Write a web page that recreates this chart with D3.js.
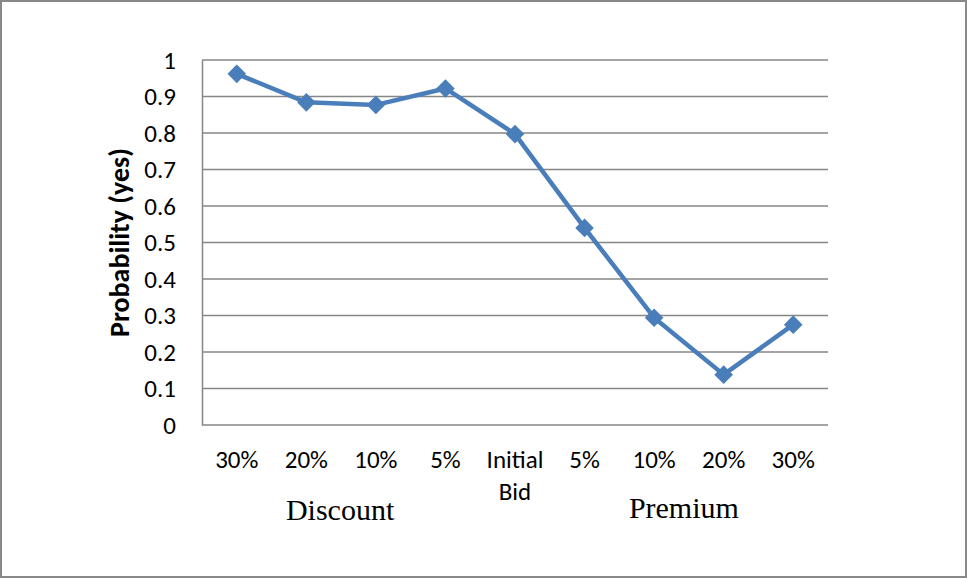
<!DOCTYPE html>
<html>
<head>
<meta charset="utf-8">
<script src="https://cdnjs.cloudflare.com/ajax/libs/d3/7.8.5/d3.min.js"></script>
<style>
  body { margin: 0; background: #fff; }
  svg { display: block; }
</style>
</head>
<body>
<div id="chart"></div>
<script>
var categories = ["30%", "20%", "10%", "5%", "Initial Bid", "5%", "10%", "20%", "30%"];
var probYes = [0.962, 0.884, 0.877, 0.922, 0.797, 0.540, 0.294, 0.138, 0.275];
var yTicks = [0, 0.1, 0.2, 0.3, 0.4, 0.5, 0.6, 0.7, 0.8, 0.9, 1];
var groupLabels = ["Discount", "Premium"];

var width = 967,
    height = 578;
var margin = { left: 202, right: 139, top: 60, bottom: 153 };
var lineColor = "#4a7ebb",
    gridColor = "#868686";
var labelFont = "Carlito, Lato, sans-serif";

var svg = d3.select("#chart")
    .append("svg")
    .attr("width", width)
    .attr("height", height);

// outer frame
svg.append("rect")
    .attr("x", 1).attr("y", 1)
    .attr("width", width - 2).attr("height", height - 2)
    .attr("fill", "#fff")
    .attr("stroke", "#888")
    .attr("stroke-width", 2);

var x = d3.scaleBand()
    .domain(d3.range(categories.length))
    .range([margin.left, width - margin.right]);

var y = d3.scaleLinear()
    .domain([0, 1])
    .range([height - margin.bottom, margin.top]);

// gridlines
svg.append("g")
    .selectAll("line")
    .data(yTicks)
    .enter().append("line")
    .attr("x1", margin.left)
    .attr("x2", width - margin.right)
    .attr("y1", function(d) { return y(d); })
    .attr("y2", function(d) { return y(d); })
    .attr("stroke", gridColor)
    .attr("stroke-width", 1.5);

// y axis
var yAxis = svg.append("g")
    .attr("transform", "translate(" + margin.left + ",0)")
    .call(d3.axisLeft(y).tickValues(yTicks).tickSize(0).tickPadding(26)
        .tickFormat(function(d) { return d === 0 || d === 1 ? d3.format("d")(d) : d3.format(".1f")(d); }));
yAxis.select(".domain").attr("stroke", gridColor).attr("stroke-width", 1.5);
yAxis.selectAll("text")
    .attr("font-family", labelFont)
    .attr("font-size", 25)
    .attr("fill", "#000");

// x axis labels
var xAxis = svg.append("g")
    .attr("transform", "translate(0," + y(0) + ")");
xAxis.selectAll("text")
    .data(categories)
    .enter().append("text")
    .attr("x", function(d, i) { return x(i) + x.bandwidth() / 2; })
    .attr("y", 43)
    .attr("text-anchor", "middle")
    .attr("font-family", labelFont)
    .attr("font-size", 25)
    .attr("fill", "#000")
    .each(function(d) {
        var words = d.split(" ");
        var t = d3.select(this);
        words.forEach(function(w, k) {
            t.append("tspan")
                .attr("x", t.attr("x"))
                .attr("dy", k === 0 ? 0 : 32)
                .text(w);
        });
    });

// group labels below
var groupCenters = [d3.mean([x(0), x(3) + x.bandwidth()]), d3.mean([x(5), x(8) + x.bandwidth()])];
svg.append("g")
    .selectAll("text")
    .data(groupLabels)
    .enter().append("text")
    .attr("x", function(d, i) { return groupCenters[i] - (i === 0 ? 1 : 5); })
    .attr("y", function(d, i) { return i === 0 ? 520 : 518; })
    .attr("text-anchor", "middle")
    .attr("font-family", "'Liberation Serif', 'Times New Roman', serif")
    .attr("font-size", 30)
    .attr("fill", "#000")
    .text(function(d) { return d; });

// y axis title
svg.append("text")
    .attr("transform", "translate(129," + ((y(0) + y(1)) / 2) + ") rotate(-90)")
    .attr("text-anchor", "middle")
    .attr("font-family", labelFont)
    .attr("font-weight", "bold")
    .attr("font-size", 28)
    .attr("fill", "#000")
    .text("Probability (yes)");

// line
var line = d3.line()
    .x(function(d, i) { return x(i) + x.bandwidth() / 2; })
    .y(function(d) { return y(d); });

svg.append("path")
    .datum(probYes)
    .attr("d", line)
    .attr("fill", "none")
    .attr("stroke", lineColor)
    .attr("stroke-width", 4.5)
    .attr("stroke-linejoin", "round");

// diamond markers
var diamond = d3.symbol().type(d3.symbolDiamond2).size(220);
svg.append("g")
    .selectAll("path")
    .data(probYes)
    .enter().append("path")
    .attr("d", diamond)
    .attr("transform", function(d, i) {
        return "translate(" + (x(i) + x.bandwidth() / 2) + "," + y(d) + ")";
    })
    .attr("fill", lineColor);
</script>
</body>
</html>
